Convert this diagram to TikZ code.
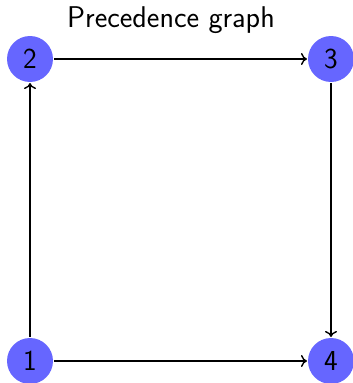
\documentclass[tikz,border=0pt]{standalone}
\usetikzlibrary{arrows.meta}
\begin{document}
\begin{tikzpicture}[x=1pt,y=1pt,
  vert/.style={circle,fill={rgb,255:red,102;green,102;blue,255},minimum size=46pt,inner sep=0pt,outer sep=1pt,font=\sffamily\fontsize{29}{34}\selectfont},
  edge/.style={-{To[length=6pt,width=12pt]},line width=1.4pt}]
\useasboundingbox (0,0) rectangle (353,-383);
\node[font=\sffamily\fontsize{30}{36}\selectfont] (title) at (171,-20) {Precedence graph};
\node[vert] (n2) at (30,-59) {2};
\node[vert] (n3) at (331,-59) {3};
\node[vert] (n1) at (30,-361) {1};
\node[vert] (n4) at (331,-361) {4};
\draw[edge] (n1) -- (n2);
\draw[edge] (n2) -- (n3);
\draw[edge] (n3) -- (n4);
\draw[edge] (n1) -- (n4);
\end{tikzpicture}
\end{document}
